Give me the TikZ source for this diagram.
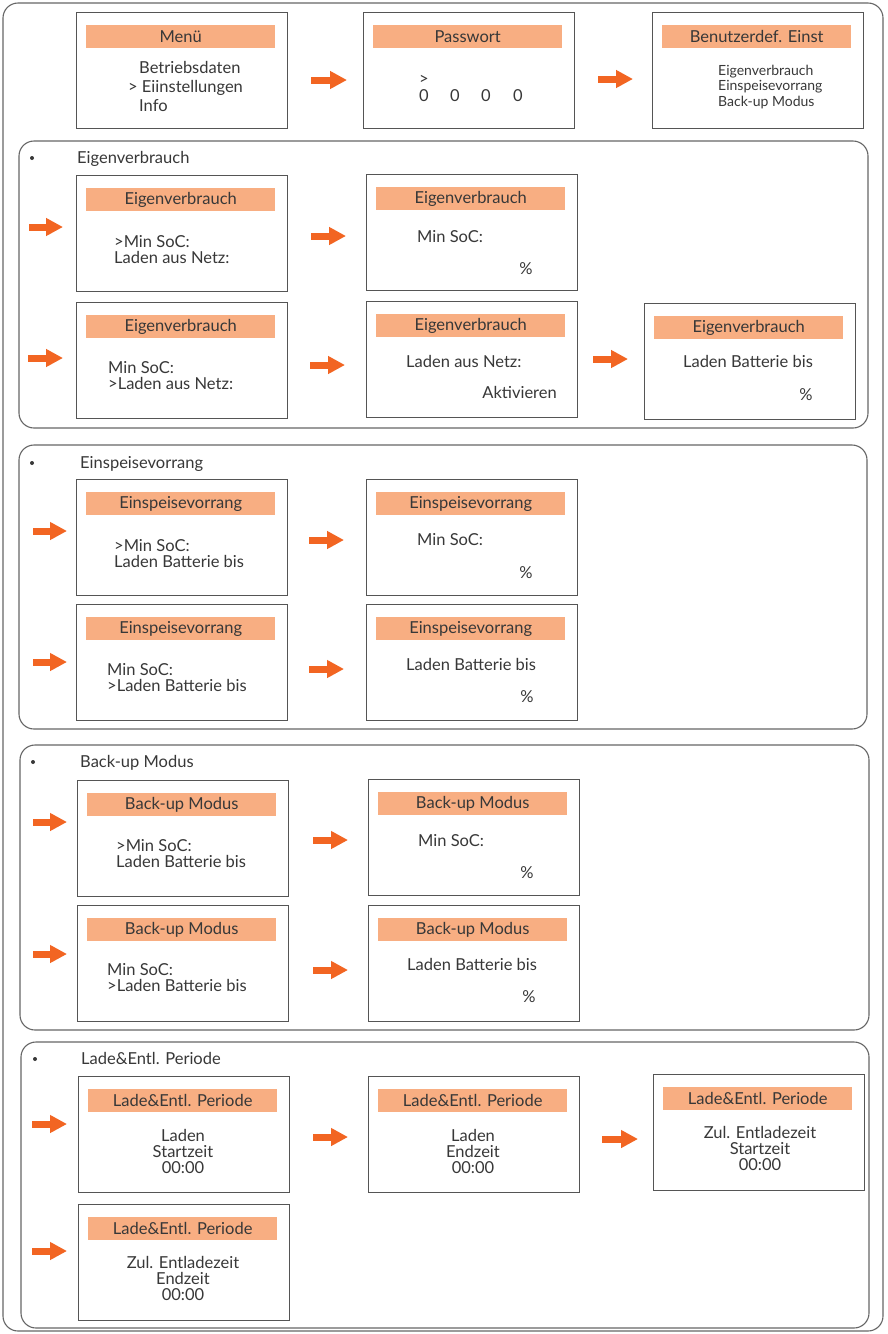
\documentclass[tikz,border=0pt]{standalone}
\usepackage{fontspec}
\setmainfont{Lato}
\usetikzlibrary{arrows.meta}
\definecolor{hdr}{HTML}{F8AE82}
\definecolor{arr}{HTML}{F26522}
\definecolor{edge}{HTML}{555555}
\definecolor{frm}{HTML}{666666}
\definecolor{txt}{HTML}{383838}
\newcommand\fs[2]{\fontsize{#1}{#2}\selectfont}
\newcommand\scr[4]{%
  \node[screen] (#1) at (#2,#3) {};
  \node[hdrbar] (#1h) at (#2+10,#3+13) {#4};}
\begin{document}
\begin{tikzpicture}[x=1pt,y=-1pt,
  frame/.style={draw=frm, line width=1.1pt, rounded corners=15pt},
  screen/.style={draw=edge, line width=1.2pt, rectangle, minimum width=211pt, minimum height=116pt, anchor=north west, inner sep=0pt},
  hdrbar/.style={fill=hdr, minimum width=189pt, minimum height=23pt, anchor=north west, inner sep=0pt, font=\fs{16.5}{17}, text=txt},
  body/.style={anchor=base west, inner sep=0pt, align=left, font=\fs{16.5}{16}, text=txt},
  cbody/.style={anchor=base, inner sep=0pt, align=center, font=\fs{16.5}{16}, text=txt},
  small/.style={anchor=base west, inner sep=0pt, align=left, font=\fs{14}{15.5}, text=txt},
  arrow/.style={draw=arr, line width=7pt, -{Triangle[length=17pt,width=17pt]}},
  bullet/.style={circle, fill=txt, inner sep=0pt, minimum size=4pt},
  title/.style={anchor=base west, inner sep=0pt, font=\fs{16.5}{17}, text=txt}]
\useasboundingbox (0,0) rectangle (887,1334);
\fill[white] (0,0) rectangle (887,1334);
\draw[frame] (3,3) rectangle (883,1331);

% ---------- top row
\scr{m1}{76}{12}{Menü}
\node[body, font=\fs{16.5}{19}] (m1t) at (128,111) {\hspace*{11pt}Betriebsdaten\\> Eiinstellungen\\\hspace*{11pt}Info};
\scr{p1}{363}{12}{Passwort}
\node[body] (p1g) at (419,84) {>};
\foreach \i/\xx in {1/424,2/455,3/486,4/518}
  \node[cbody] (p1z\i) at (\xx,101) {0};
\scr{u1}{652}{12}{Benutzerdef. Einst}
\node[small] (u1t) at (718,106) {Eigenverbrauch\\Einspeisevorrang\\Back-up Modus};
\coordinate (r0a) at (311,80); \coordinate (r0b) at (347,80);
\coordinate (r0c) at (598,79); \coordinate (r0d) at (633,79);
\draw[arrow] (r0a) -- (r0b);
\draw[arrow] (r0c) -- (r0d);

% ---------- Eigenverbrauch
\draw[frame] (19,141) rectangle (868,428);
\node[bullet] (s1b) at (32,158) {};
\node[title] (s1t) at (77,163) {Eigenverbrauch};
\scr{a1}{76}{175}{Eigenverbrauch}
\node[body] (a1t) at (114,263) {>Min SoC:\\Laden aus Netz:};
\scr{a2}{366}{174}{Eigenverbrauch}
\node[body] (a2t) at (417,242) {Min SoC:};
\node[cbody] (a2p) at (526,274) {\%};
\scr{b1}{76}{302}{Eigenverbrauch}
\node[body] (b1t) at (108,389) {Min SoC:\\>Laden aus Netz:};
\scr{b2}{366}{301}{Eigenverbrauch}
\node[body] (b2t) at (406,367) {Laden aus Netz:};
\node[body, anchor=base east] (b2a) at (557,398) {Aktivieren};
\scr{b3}{644}{303}{Eigenverbrauch}
\node[cbody] (b3t) at (748,367) {Laden Batterie bis};
\node[cbody] (b3p) at (806,400) {\%};
\coordinate (s1a) at (29,227); \coordinate (s1aa) at (63,227);
\coordinate (s1c) at (311,236); \coordinate (s1cc) at (346,236);
\coordinate (s1d) at (28,358); \coordinate (s1dd) at (63,358);
\coordinate (s1e) at (310,365); \coordinate (s1ee) at (345,365);
\coordinate (s1f) at (593,359); \coordinate (s1ff) at (628,359);
\draw[arrow] (s1a) -- (s1aa);
\draw[arrow] (s1c) -- (s1cc);
\draw[arrow] (s1d) -- (s1dd);
\draw[arrow] (s1e) -- (s1ee);
\draw[arrow] (s1f) -- (s1ff);

% ---------- Einspeisevorrang
\draw[frame] (19,445) rectangle (867,729);
\node[bullet] (s2b) at (32,463) {};
\node[title] (s2t) at (80,468) {Einspeisevorrang};
\scr{c1}{76}{479}{Einspeisevorrang}
\node[body] (c1t) at (114,567) {>Min SoC:\\Laden Batterie bis};
\scr{c2}{366}{479}{Einspeisevorrang}
\node[body] (c2t) at (417,545) {Min SoC:};
\node[cbody] (c2p) at (526,578) {\%};
\scr{d1}{76}{604}{Einspeisevorrang}
\node[body] (d1t) at (107,691) {Min SoC:\\>Laden Batterie bis};
\scr{d2}{366}{604}{Einspeisevorrang}
\node[body] (d2t) at (406,670) {Laden Batterie bis};
\node[cbody] (d2p) at (527,702) {\%};
\coordinate (s2a) at (33,531); \coordinate (s2aa) at (67,531);
\coordinate (s2c) at (309,540); \coordinate (s2cc) at (344,540);
\coordinate (s2d) at (33,662); \coordinate (s2dd) at (67,662);
\coordinate (s2e) at (309,669); \coordinate (s2ee) at (344,669);
\draw[arrow] (s2a) -- (s2aa);
\draw[arrow] (s2c) -- (s2cc);
\draw[arrow] (s2d) -- (s2dd);
\draw[arrow] (s2e) -- (s2ee);

% ---------- Back-up Modus
\draw[frame] (20,745) rectangle (869,1030);
\node[bullet] (s3b) at (33,762) {};
\node[title] (s3t) at (80,767) {Back-up Modus};
\scr{e1}{77}{780}{Back-up Modus}
\node[body] (e1t) at (116,867) {>Min SoC:\\Laden Batterie bis};
\scr{e2}{368}{779}{Back-up Modus}
\node[body] (e2t) at (418,846) {Min SoC:};
\node[cbody] (e2p) at (527,878) {\%};
\scr{f1}{77}{905}{Back-up Modus}
\node[body] (f1t) at (107,991) {Min SoC:\\>Laden Batterie bis};
\scr{f2}{368}{905}{Back-up Modus}
\node[body] (f2t) at (407,970) {Laden Batterie bis};
\node[cbody] (f2p) at (529,1002) {\%};
\coordinate (s3a) at (33,822); \coordinate (s3aa) at (67,822);
\coordinate (s3c) at (313,840); \coordinate (s3cc) at (348,840);
\coordinate (s3d) at (33,954); \coordinate (s3dd) at (67,954);
\coordinate (s3e) at (313,970); \coordinate (s3ee) at (348,970);
\draw[arrow] (s3a) -- (s3aa);
\draw[arrow] (s3c) -- (s3cc);
\draw[arrow] (s3d) -- (s3dd);
\draw[arrow] (s3e) -- (s3ee);

% ---------- Lade&Entl. Periode
\draw[frame] (21,1042) rectangle (869,1328);
\node[bullet] (s4b) at (35,1059) {};
\node[title] (s4t) at (81,1064) {Lade\&Entl. Periode};
\scr{g1}{78}{1076}{Lade\&Entl. Periode}
\node[cbody] (g1t) at (183,1173) {Laden\\Startzeit\\00:00};
\scr{g2}{368}{1076}{Lade\&Entl. Periode}
\node[cbody] (g2t) at (473,1173) {Laden\\Endzeit\\00:00};
\scr{g3}{653}{1074}{Lade\&Entl. Periode}
\node[cbody] (g3t) at (760,1170) {Zul. Entladezeit\\Startzeit\\00:00};
\scr{h1}{78}{1204}{Lade\&Entl. Periode}
\node[cbody] (h1t) at (183,1300) {Zul. Entladezeit\\Endzeit\\00:00};
\coordinate (s4a) at (32,1124); \coordinate (s4aa) at (67,1124);
\coordinate (s4c) at (313,1137); \coordinate (s4cc) at (348,1137);
\coordinate (s4d) at (602,1139); \coordinate (s4dd) at (638,1139);
\coordinate (s4e) at (32,1251); \coordinate (s4ee) at (67,1251);
\draw[arrow] (s4a) -- (s4aa);
\draw[arrow] (s4c) -- (s4cc);
\draw[arrow] (s4d) -- (s4dd);
\draw[arrow] (s4e) -- (s4ee);
\end{tikzpicture}
\end{document}
